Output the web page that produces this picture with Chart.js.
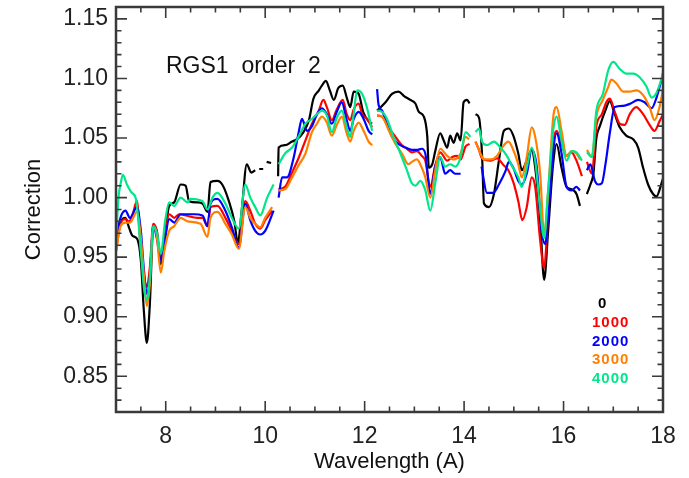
<!DOCTYPE html>
<html>
<head>
<meta charset="utf-8">
<script src="https://cdn.jsdelivr.net/npm/chart.js@4.4.1/dist/chart.umd.min.js"></script>
<style>
  html, body { margin: 0; padding: 0; background: #fff; }
</style>
</head>
<body>
<canvas id="corrChart" width="689" height="478"></canvas>
<script>
// tick labels and series names
const xTicks = [8, 10, 12, 14, 16, 18];
const yTicks = [0.85, 0.90, 0.95, 1.00, 1.05, 1.10, 1.15];
const seriesLabels = ['0', '1000', '2000', '3000', '4000'];
const seriesColors = ['#000000', '#ff0000', '#0000ff', '#ff8000', '#00e68a'];

// series "0" (black)
const wl0 = [
  7.00, 7.09, 7.19, 7.26, 7.33, 7.43, 7.50, 7.56, 7.62, 7.68,
  7.75, 7.82, 7.90, 7.97, 8.07, 8.17, 8.30, 8.40, 8.47, 8.64,
  8.74, 8.84, 8.90, 9.04, 9.15, 9.27, 9.38, 9.45, 9.53, 9.63,
  9.72, 9.80, 9.84, 9.88, 9.96, 9.99, 10.03, 10.12, 10.20, 10.26,
  10.27, 10.40, 10.54, 10.64, 10.77, 10.88, 10.97, 11.08, 11.14, 11.22,
  11.30, 11.38, 11.47, 11.56, 11.64, 11.71, 11.78, 11.88, 11.97, 12.08,
  12.15, 12.20, 12.25, 12.42, 12.55, 12.68, 12.80, 12.92, 13.02, 13.09,
  13.19, 13.26, 13.29, 13.36, 13.42, 13.52, 13.59, 13.66, 13.72, 13.79,
  13.86, 13.93, 13.99, 14.06, 14.11, 14.17, 14.23, 14.30, 14.36, 14.40,
  14.50, 14.60, 14.70, 14.80, 14.90, 14.99, 15.09, 15.16, 15.26, 15.36,
  15.43, 15.53, 15.61, 15.69, 15.79, 15.86, 15.96, 16.06, 16.16, 16.26,
  16.33, 16.40, 16.47, 16.54, 16.60, 16.66, 16.73, 16.84, 16.93, 17.03,
  17.13, 17.26, 17.40, 17.50, 17.60, 17.70, 17.80, 17.87, 17.97, 18.00
];
const corr0 = [
  0.962, 0.979, 0.983, 0.975, 0.968, 0.965, 0.947, 0.905, 0.878, 0.910,
  0.976, 0.972, 0.944, 0.964, 0.993, 0.996, 1.011, 1.010, 0.997, 0.996,
  0.995, 0.988, 1.013, 1.014, 1.010, 0.997, 0.980, 0.962, 0.990, 1.028,
  1.021, 1.023, null, 1.024, 1.024, null, 1.030, 1.029, null, 1.018,
  1.042, 1.044, 1.047, 1.049, 1.055, 1.065, 1.083, 1.090, 1.094, 1.098,
  1.090, 1.082, 1.092, 1.094, 1.084, 1.076, 1.089, 1.087, 1.072, 1.064,
  1.062, null, 1.073, 1.080, 1.087, 1.089, 1.085, 1.082, 1.079, 1.072,
  1.068, 1.051, 1.025, 1.028, 1.039, 1.054, 1.048, 1.042, 1.052, 1.046,
  1.054, 1.048, 1.080, 1.082, 1.079, null, 1.070, 1.067, 1.037, 0.995,
  0.992, 1.003, 1.031, 1.056, 1.058, 1.052, 1.037, 1.023, 1.031, 1.040,
  1.025, 0.981, 0.931, 0.972, 1.028, 1.045, 1.025, 1.009, 1.007, 1.003,
  0.993, null, 1.003, 1.011, 1.020, 1.050, 1.060, 1.073, 1.081, 1.070,
  1.059, 1.052, 1.049, 1.042, 1.025, 1.011, 1.003, 1.001, 1.012, 1.016
];

// series "1000" (red)
const wl1 = [
  7.00, 7.09, 7.19, 7.26, 7.33, 7.42, 7.50, 7.56, 7.62, 7.68,
  7.75, 7.82, 7.90, 7.97, 8.07, 8.17, 8.27, 8.40, 8.64, 8.74,
  8.84, 8.90, 9.04, 9.20, 9.33, 9.47, 9.60, 9.70, 9.80, 9.90,
  10.00, 10.14, 10.20, 10.27, 10.40, 10.54, 10.67, 10.81, 10.94, 11.07,
  11.17, 11.24, 11.34, 11.44, 11.56, 11.64, 11.71, 11.78, 11.88, 11.95,
  12.05, 12.15, 12.20, 12.25, 12.35, 12.48, 12.62, 12.75, 12.85, 12.95,
  13.05, 13.15, 13.22, 13.32, 13.42, 13.52, 13.66, 13.76, 13.86, 13.93,
  14.03, 14.11, 14.17, 14.23, 14.30, 14.36, 14.53, 14.66, 14.80, 14.89,
  14.99, 15.09, 15.17, 15.26, 15.36, 15.43, 15.53, 15.61, 15.69, 15.80,
  15.86, 15.96, 16.06, 16.16, 16.26, 16.37, 16.42, 16.47, 16.57, 16.66,
  16.77, 16.86, 16.93, 17.03, 17.13, 17.23, 17.33, 17.46, 17.60, 17.73,
  17.83, 17.93, 18.00
];
const corr1 = [
  0.955, 0.978, 0.982, 0.980, 0.985, 0.997, 0.955, 0.935, 0.925, 0.941,
  0.978, 0.972, 0.947, 0.961, 0.986, 0.983, 0.986, 0.985, 0.983, 0.983,
  0.976, 0.992, 0.993, 0.983, 0.972, 0.961, 0.997, 0.989, 0.978, 0.974,
  0.981, 0.989, null, 1.007, 1.009, 1.021, 1.033, 1.048, 1.062, 1.072,
  1.082, 1.076, 1.065, 1.074, 1.082, 1.070, 1.065, 1.074, 1.079, 1.070,
  1.066, 1.059, null, 1.069, 1.068, 1.059, 1.051, 1.044, 1.041, 1.038,
  1.039, 1.035, 1.031, 1.009, 1.027, 1.038, 1.031, 1.034, 1.035, 1.032,
  1.043, 1.045, null, 1.047, 1.040, 1.033, 1.031, 1.033, 1.027, 1.023,
  1.013, 0.997, 0.981, 0.992, 1.017, 1.009, 0.964, 0.941, 0.986, 1.048,
  1.056, 1.045, 1.035, 1.038, 1.031, 1.018, null, 1.030, 1.020, 1.060,
  1.070, 1.080, 1.083, 1.072, 1.062, 1.061, 1.070, 1.076, 1.070, 1.061,
  1.056, 1.064, 1.070
];

// series "2000" (blue)
const wl2 = [
  7.00, 7.09, 7.19, 7.28, 7.42, 7.50, 7.56, 7.62, 7.68, 7.75,
  7.82, 7.90, 7.97, 8.07, 8.17, 8.30, 8.57, 8.74, 8.84, 8.90,
  9.04, 9.20, 9.33, 9.47, 9.60, 9.70, 9.80, 9.90, 10.00, 10.17,
  10.22, 10.27, 10.34, 10.44, 10.57, 10.67, 10.74, 10.84, 10.94, 11.04,
  11.14, 11.24, 11.34, 11.44, 11.54, 11.64, 11.71, 11.78, 11.88, 11.98,
  12.08, 12.15, 12.20, 12.25, 12.28, 12.35, 12.45, 12.55, 12.68, 12.82,
  12.95, 13.05, 13.15, 13.22, 13.32, 13.42, 13.52, 13.62, 13.72, 13.82,
  13.93, 14.15, 14.35, 14.46, 14.59, 14.70, 14.83, 14.90, 14.99, 15.09,
  15.16, 15.26, 15.36, 15.46, 15.56, 15.63, 15.70, 15.80, 15.86, 15.96,
  16.06, 16.16, 16.26, 16.33, 16.40, 16.47, 16.54, 16.63, 16.70, 16.77,
  16.85, 16.93, 17.03, 17.20, 17.35, 17.50, 17.63, 17.77, 17.87, 17.97,
  18.00
];
const corr2 = [
  0.964, 0.983, 0.989, 0.983, 0.992, 0.972, 0.940, 0.919, 0.933, 0.976,
  0.966, 0.947, 0.961, 0.982, 0.979, 0.986, 0.986, 0.985, 0.976, 0.995,
  0.999, 0.989, 0.975, 0.958, 0.995, 0.981, 0.972, 0.969, 0.972, 0.989,
  null, 1.000, 1.017, 1.017, 1.033, 1.054, 1.066, 1.056, 1.060, 1.070,
  1.075, 1.070, 1.062, 1.072, 1.080, 1.065, 1.056, 1.066, 1.072, 1.066,
  1.056, 1.053, null, 1.091, 1.078, 1.073, 1.062, 1.051, 1.045, 1.042,
  1.040, 1.040, 1.041, 1.037, 1.003, 1.026, 1.034, 1.020, 1.023, 1.020,
  1.020, null, 1.026, 1.004, 1.004, 1.011, 1.022, 1.030, 1.025, 1.014,
  1.011, 1.020, 1.040, 1.026, 0.972, 0.961, 0.990, 1.042, 1.054, 1.037,
  1.009, 1.006, 1.009, 1.006, null, 1.023, 1.028, 1.014, 1.011, 1.012,
  1.030, 1.054, 1.076, 1.077, 1.079, 1.082, 1.080, 1.075, 1.084, 1.099,
  1.104
];

// series "3000" (orange)
const wl3 = [
  7.00, 7.09, 7.19, 7.28, 7.42, 7.50, 7.56, 7.62, 7.68, 7.75,
  7.82, 7.90, 7.97, 8.07, 8.17, 8.30, 8.44, 8.70, 8.84, 8.90,
  9.04, 9.20, 9.33, 9.47, 9.60, 9.70, 9.80, 9.90, 10.00, 10.14,
  10.20, 10.27, 10.40, 10.54, 10.67, 10.81, 10.94, 11.04, 11.14, 11.24,
  11.34, 11.44, 11.54, 11.64, 11.71, 11.78, 11.88, 11.98, 12.08, 12.15,
  12.20, 12.25, 12.35, 12.48, 12.62, 12.75, 12.88, 12.95, 13.05, 13.15,
  13.22, 13.32, 13.42, 13.52, 13.66, 13.79, 13.93, 14.03, 14.10, 14.17,
  14.23, 14.33, 14.40, 14.53, 14.66, 14.80, 14.89, 14.99, 15.09, 15.16,
  15.26, 15.36, 15.43, 15.53, 15.61, 15.69, 15.80, 15.86, 15.96, 16.06,
  16.16, 16.26, 16.33, 16.40, 16.47, 16.57, 16.66, 16.79, 16.90, 16.96,
  17.06, 17.20, 17.33, 17.46, 17.60, 17.73, 17.83, 17.93, 18.00
];
const corr3 = [
  0.955, 0.976, 0.979, 0.979, 0.988, 0.966, 0.935, 0.909, 0.927, 0.975,
  0.968, 0.937, 0.955, 0.972, 0.976, 0.983, 0.980, 0.978, 0.967, 0.983,
  0.988, 0.978, 0.969, 0.957, 0.992, 0.983, 0.978, 0.975, 0.983, 0.992,
  null, 1.006, 1.007, 1.017, 1.027, 1.037, 1.055, 1.062, 1.068, 1.063,
  1.052, 1.061, 1.068, 1.054, 1.047, 1.056, 1.063, 1.056, 1.047, 1.044,
  null, 1.069, 1.068, 1.057, 1.045, 1.037, 1.028, 1.030, 1.032, 1.025,
  1.017, 1.000, 1.023, 1.041, 1.035, 1.032, 1.037, 1.051, 1.049, null,
  1.047, 1.037, 1.032, 1.032, 1.035, 1.044, 1.047, 1.040, 1.028, 1.017,
  1.034, 1.059, 1.051, 1.020, 0.969, 1.005, 1.070, 1.076, 1.056, 1.035,
  1.039, 1.037, 1.032, null, 1.040, 1.034, 1.068, 1.082, 1.093, 1.099,
  1.096, 1.089, 1.089, 1.090, 1.086, 1.076, 1.065, 1.076, 1.091
];

// series "4000" (green)
const wl4 = [
  7.00, 7.05, 7.09, 7.14, 7.22, 7.32, 7.40, 7.50, 7.56, 7.62,
  7.68, 7.75, 7.83, 7.90, 7.99, 8.07, 8.17, 8.30, 8.44, 8.50,
  8.74, 8.84, 8.94, 9.04, 9.20, 9.33, 9.47, 9.60, 9.70, 9.80,
  9.90, 10.04, 10.17, 10.22, 10.27, 10.40, 10.54, 10.67, 10.81, 10.94,
  11.04, 11.14, 11.24, 11.34, 11.44, 11.54, 11.64, 11.71, 11.78, 11.85,
  11.95, 12.05, 12.12, 12.15, 12.20, 12.25, 12.35, 12.45, 12.58, 12.72,
  12.85, 12.95, 13.02, 13.12, 13.22, 13.32, 13.42, 13.52, 13.62, 13.72,
  13.82, 13.93, 14.03, 14.13, 14.18, 14.23, 14.30, 14.36, 14.46, 14.60,
  14.73, 14.86, 14.96, 15.09, 15.16, 15.26, 15.36, 15.43, 15.53, 15.61,
  15.69, 15.80, 15.86, 15.96, 16.06, 16.16, 16.26, 16.37, 16.42, 16.47,
  16.57, 16.66, 16.79, 16.90, 17.00, 17.13, 17.26, 17.40, 17.53, 17.67,
  17.77, 17.87, 17.97, 18.00
];
const corr4 = [
  0.964, 1.000, 1.011, 1.019, 1.011, 1.004, 0.999, 0.955, 0.925, 0.914,
  0.933, 0.976, 0.969, 0.953, 0.981, 0.996, 0.993, 1.000, 0.996, 0.999,
  0.997, 0.990, 1.000, 1.004, 0.995, 0.983, 0.974, 1.011, 1.000, 0.992,
  0.985, 1.000, 1.011, null, 1.028, 1.037, 1.042, 1.051, 1.062, 1.066,
  1.070, 1.073, 1.069, 1.055, 1.067, 1.073, 1.059, 1.051, 1.070, 1.090,
  1.087, 1.075, 1.062, 1.056, null, 1.073, 1.072, 1.066, 1.051, 1.037,
  1.023, 1.012, 1.010, 1.014, 1.006, 0.989, 1.012, 1.034, 1.026, 1.028,
  1.026, 1.034, 1.055, 1.051, null, 1.055, 1.058, 1.047, 1.044, 1.047,
  1.042, 1.035, 1.027, 1.017, 1.009, 1.025, 1.042, 1.031, 0.990, 0.966,
  1.006, 1.059, 1.068, 1.048, 1.031, 1.039, 1.038, 1.031, null, 1.038,
  1.034, 1.073, 1.087, 1.107, 1.114, 1.108, 1.104, 1.104, 1.101, 1.093,
  1.084, 1.088, 1.100, 1.105
];

const allWl = [wl0, wl1, wl2, wl3, wl4];
const allCorr = [corr0, corr1, corr2, corr3, corr4];

const FONT = "'Liberation Sans', Arial, sans-serif";

// white background, inward ticks on all four sides, frame, title and legend texts
const idlFrame = {
    id: 'idlFrame',
    beforeDraw(chart) {
        const ctx = chart.ctx;
        ctx.save();
        ctx.fillStyle = '#ffffff';
        ctx.fillRect(0, 0, chart.width, chart.height);
        ctx.restore();
    },
    afterDraw(chart) {
        const { ctx, chartArea: a, scales: { x, y } } = chart;
        ctx.save();
        ctx.strokeStyle = '#3a3a3a';
        ctx.lineWidth = 1.6;
        ctx.beginPath();
        // x ticks every 0.5, long ones at the labelled values
        for (let i = 0; i <= 22; i++) {
            const v = 7 + i * 0.5;
            const px = x.getPixelForValue(v);
            const len = xTicks.includes(v) ? 11 : 5.5;
            ctx.moveTo(px, a.bottom); ctx.lineTo(px, a.bottom - len);
            ctx.moveTo(px, a.top); ctx.lineTo(px, a.top + len);
        }
        // y ticks every 0.01, long ones every 0.05
        for (let i = 82; i <= 116; i++) {
            const py = y.getPixelForValue(i / 100);
            const len = i % 5 === 0 ? 11 : 5.5;
            ctx.moveTo(a.left, py); ctx.lineTo(a.left + len, py);
            ctx.moveTo(a.right, py); ctx.lineTo(a.right - len, py);
        }
        ctx.stroke();
        ctx.lineWidth = 2.5;
        ctx.strokeRect(a.left, a.top, a.right - a.left, a.bottom - a.top);

        // plot title inside the frame
        ctx.fillStyle = '#111';
        ctx.font = '23px ' + FONT;
        ctx.textBaseline = 'alphabetic';
        ctx.textAlign = 'left';
        ctx.fillText('RGS1  order  2', a.left + 50, a.top + 66);

        // legend: coloured numbers at lower right
        ctx.font = 'bold 15px ' + FONT;
        ctx.letterSpacing = '1px';
        seriesLabels.forEach((lab, i) => {
            ctx.fillStyle = seriesColors[i];
            const tx = i === 0 ? a.left + 482 : a.left + 476;
            ctx.fillText(lab, tx, a.top + 301 + i * 18.8);
        });
        ctx.restore();
    }
};

const datasets = seriesLabels.map((lab, i) => ({
    label: lab,
    data: allWl[i].map((w, j) => ({ x: w, y: allCorr[i][j] })),
    borderColor: seriesColors[i],
    borderWidth: 2.2,
    pointRadius: 0,
    fill: false,
    spanGaps: false,
    cubicInterpolationMode: 'monotone',
    order: 4 - i
}));

new Chart(document.getElementById('corrChart'), {
    type: 'line',
    data: { datasets: datasets },
    options: {
        responsive: false,
        animation: false,
        layout: { padding: { left: 0, right: 26, top: 7, bottom: 0 } },
        plugins: {
            legend: { display: false },
            tooltip: { enabled: false }
        },
        scales: {
            x: {
                type: 'linear',
                min: 7,
                max: 18,
                afterBuildTicks: s => { s.ticks = xTicks.map(v => ({ value: v })); },
                afterFit: s => { s.height = 66; s.paddingLeft = 0; s.paddingRight = 0; },
                grid: { display: false, drawTicks: false },
                border: { display: false },
                ticks: {
                    padding: 11,
                    color: '#222',
                    maxRotation: 0,
                    font: { family: FONT, size: 23 },
                    callback: v => String(v)
                },
                title: {
                    display: true,
                    text: 'Wavelength (A)',
                    color: '#111',
                    font: { family: FONT, size: 22 },
                    padding: { top: 0, bottom: 3 }
                }
            },
            y: {
                type: 'linear',
                min: 0.82,
                max: 1.16,
                afterBuildTicks: s => { s.ticks = yTicks.map(v => ({ value: v })); },
                afterFit: s => { s.width = 116; s.paddingTop = 0; s.paddingBottom = 0; },
                grid: { display: false, drawTicks: false },
                border: { display: false },
                ticks: {
                    padding: 8,
                    color: '#222',
                    font: { family: FONT, size: 23 },
                    callback: v => v.toFixed(2)
                },
                title: {
                    display: true,
                    text: 'Correction',
                    color: '#111',
                    font: { family: FONT, size: 22 },
                    padding: { top: 21, bottom: 0 }
                }
            }
        }
    },
    plugins: [idlFrame]
});
</script>
</body>
</html>
